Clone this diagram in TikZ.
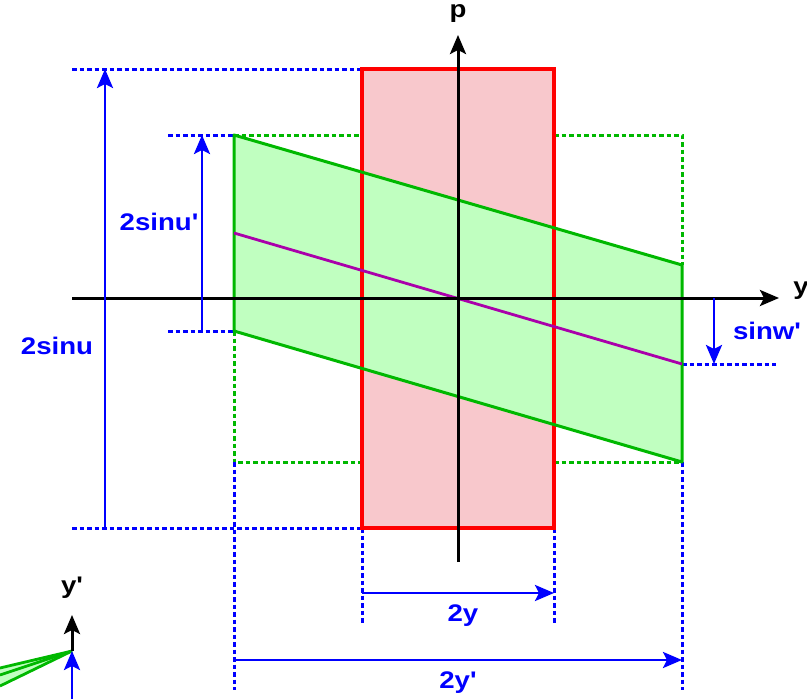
\documentclass[tikz,border=0pt]{standalone}
\usepackage{fontspec}
\newfontfamily\labfont[FakeStretch=1.15]{Liberation Sans Bold}
\usetikzlibrary{arrows.meta}
\definecolor{cred}{HTML}{FF0000}
\definecolor{credfill}{HTML}{F8C8CC}
\definecolor{cgreen}{HTML}{00B800}
\definecolor{cgreenfill}{HTML}{C0FFC0}
\definecolor{cblue}{HTML}{0000FF}
\definecolor{cmag}{HTML}{AA00AA}
\tikzset{
  lab/.style={font=\labfont\fontsize{24}{26}\selectfont, inner sep=0pt},
  bluelab/.style={lab, text=cblue},
  tip/.style={-{Stealth[length=19pt,width=16pt,inset=4pt]}},
  axis/.style={tip, black, line width=3pt},
  dimarrow/.style={tip, cblue, line width=2.8pt},
  bluedot/.style={cblue, line width=3pt, dash pattern=on 4.5pt off 3pt},
  greendot/.style={cgreen, line width=3pt, dash pattern=on 4.5pt off 3pt},
  redbox/.style={cred, line width=3.2pt},
  greenbox/.style={cgreen, line width=3pt, line join=round},
}
\begin{document}
\begin{tikzpicture}[x=1pt,y=-1pt]
\useasboundingbox (0,0) rectangle (807,699);
% key points
\coordinate (R1) at (362,69);  \coordinate (R2) at (554,69);
\coordinate (R3) at (554,528); \coordinate (R4) at (362,528);
\coordinate (G1) at (234,135); \coordinate (G2) at (682,265);
\coordinate (G3) at (682,462); \coordinate (G4) at (234,331);
\coordinate (M1) at (234,233); \coordinate (M2) at (682,364);
% fills
\fill[credfill] (R1) -- (R2) -- (R3) -- (R4) -- cycle;
\fill[cgreenfill] (G1) -- (G2) -- (G3) -- (G4) -- cycle;
% green dashed bounding lines
\coordinate (gt1) at (362,135); \coordinate (gt2) at (554,135); \coordinate (gt3) at (682,135);
\coordinate (gb1) at (362,462); \coordinate (gb2) at (554,462); \coordinate (gb0) at (234,462);
\draw[greendot] (G1) -- (gt1);
\draw[greendot] (gt2) -- (gt3) -- (G2);
\draw[greendot] (G4) -- (gb0) -- (gb1);
\draw[greendot] (gb2) -- (G3);
% blue dashed extension lines
\coordinate (b1) at (72,69);   \coordinate (b2) at (168,135);
\coordinate (b3) at (168,331); \coordinate (b4) at (72,528);
\coordinate (b5) at (776,364);
\coordinate (v1) at (234,690); \coordinate (v2) at (362,623);
\coordinate (v3) at (554,623); \coordinate (v4) at (682,690);
\draw[bluedot] (b1) -- (R1);
\draw[bluedot] (b2) -- (G1);
\draw[bluedot] (b3) -- (G4);
\draw[bluedot] (b4) -- (R4);
\draw[bluedot] (M2) -- (b5);
\draw[bluedot] (gb0) -- (v1);
\draw[bluedot] (R4) -- (v2);
\draw[bluedot] (R3) -- (v3);
\draw[bluedot] (G3) -- (v4);
% shapes outlines
\draw[redbox] (R1) -- (R2) -- (R3) -- (R4) -- cycle;
\draw[greenbox] (G1) -- (G2) -- (G3) -- (G4) -- cycle;
\draw[cmag, line width=2.8pt] (M1) -- (M2);
% axes
\coordinate (xa0) at (72,298);  \coordinate (xa1) at (779,298);
\coordinate (pa0) at (458,562); \coordinate (pa1) at (458,35);
\draw[axis] (xa0) -- (xa1);
\draw[axis] (pa0) -- (pa1);
\node[lab] (ylab) at (801,291) {y};
\node[lab] (plab) at (458,14) {p};
% dimension arrows
\coordinate (d1a) at (105,528); \coordinate (d1b) at (105,69);
\coordinate (d2a) at (202,331); \coordinate (d2b) at (202,135);
\coordinate (d3a) at (714,298); \coordinate (d3b) at (714,364);
\coordinate (d4a) at (362,593); \coordinate (d4b) at (554,593);
\coordinate (d5a) at (234,660); \coordinate (d5b) at (682,660);
\draw[dimarrow] (d1a) -- (d1b);
\draw[dimarrow] (d2a) -- (d2b);
\draw[dimarrow] (d3a) -- (d3b);
\draw[dimarrow] (d4a) -- (d4b);
\draw[dimarrow] (d5a) -- (d5b);
\node[bluelab] (l1) at (57,346) {2sinu};
\node[bluelab] (l2) at (159,222) {2sinu'};
\node[bluelab] (l3) at (767,331) {sinw'};
\node[bluelab] (l4) at (463,616) {2y};
\node[bluelab] (l5) at (458,683) {2y'};
% small bottom-left glyph
\coordinate (s0) at (72,651);
\coordinate (sa) at (0,668); \coordinate (sb) at (0,675); \coordinate (sc) at (0,686);
\coordinate (s1) at (72,615); \coordinate (s2) at (72,699);
\fill[cgreenfill] (s0) -- (sa) -- (sc) -- cycle;
\draw[cgreen, line width=2.8pt] (s0) -- (sa);
\draw[cgreen, line width=2.8pt] (s0) -- (sb);
\draw[cgreen, line width=2.8pt] (s0) -- (sc);
\draw[axis] (s0) -- (s1);
\draw[dimarrow] (s2) -- (s0);
\node[lab] (yplab) at (72,588) {y'};
\end{tikzpicture}
\end{document}
